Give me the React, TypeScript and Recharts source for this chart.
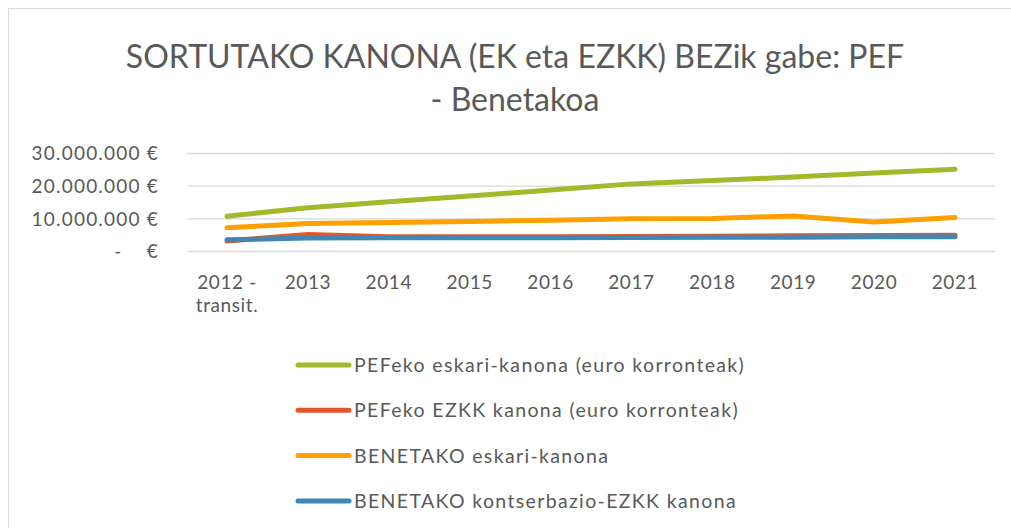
import React from 'react';
import { LineChart, Line, XAxis, YAxis, CartesianGrid } from 'recharts';

const categories = ['2012 - transit.', '2013', '2014', '2015', '2016', '2017', '2018', '2019', '2020', '2021'];
const pefEskari = [10.8e6, 13.4e6, 15.2e6, 17.0e6, 18.8e6, 20.7e6, 21.7e6, 22.8e6, 24.0e6, 25.2e6];
const pefEzkk = [3.2e6, 5.2e6, 4.5e6, 4.5e6, 4.5e6, 4.6e6, 4.7e6, 4.8e6, 4.9e6, 5.0e6];
const benEskari = [7.3e6, 8.6e6, 8.9e6, 9.2e6, 9.6e6, 10.0e6, 10.1e6, 10.9e6, 9.0e6, 10.4e6];
const benEzkk = [3.6e6, 4.1e6, 4.2e6, 4.2e6, 4.2e6, 4.3e6, 4.4e6, 4.4e6, 4.5e6, 4.5e6];
const yTicks = [0, 10000000, 20000000, 30000000];
const titleLines = ['SORTUTAKO KANONA (EK eta EZKK) BEZik gabe: PEF', '- Benetakoa'];

const seriesNames = [
  'PEFeko eskari-kanona (euro korronteak)',
  'PEFeko EZKK kanona (euro korronteak)',
  'BENETAKO eskari-kanona',
  'BENETAKO kontserbazio-EZKK kanona',
];
const seriesKeys = ['pefEskari', 'pefEzkk', 'benEskari', 'benEzkk'];
const seriesColors = ['#A5B72A', '#E5572B', '#FFA000', '#3F87B4'];

const data = categories.map((c, i) => ({
  name: c,
  pefEskari: pefEskari[i],
  pefEzkk: pefEzkk[i],
  benEskari: benEskari[i],
  benEzkk: benEzkk[i],
}));

const FONT = 'Lato, "Open Sans", sans-serif';
const TEXT = '#595959';

const fmtY = (v: number) => {
  if (v === 0) return '-\u00A0\u00A0\u00A0\u00A0€';
  return v.toLocaleString('de-DE') + ' €';
};

const XTick = (props: any) => {
  const { x, y, payload } = props;
  const label: string = payload.value;
  let lines = [label];
  if (label.length > 6) {
    const idx = label.lastIndexOf(' ');
    lines = [label.slice(0, idx), label.slice(idx + 1)];
  }
  return (
    <text x={x} y={y} textAnchor="middle" fill={TEXT} fontSize={19} fontFamily={FONT} letterSpacing={0.6}>
      {lines.map((l, i) => (
        <tspan key={i} x={x} dy={i === 0 ? 29 : 23}>
          {l}
        </tspan>
      ))}
    </text>
  );
};

export default function App() {
  return (
    <div style={{ position: 'absolute', left: 0, top: 0, width: 1011, height: 528, overflow: 'hidden', background: '#fff' }}>
      <div
        style={{
          position: 'absolute',
          left: 8,
          top: 8,
          width: 1200,
          height: 800,
          border: '1px solid #D9D9D9',
          boxSizing: 'border-box',
        }}
      />
      <svg width={1011} height={528} style={{ position: 'absolute', left: 0, top: 0 }}>
        {titleLines.map((t, i) => (
          <text
            key={t}
            x={515}
            y={68 + i * 43}
            textAnchor="middle"
            fill={TEXT}
            fontSize={32}
            fontFamily={FONT}
          >
            {t}
          </text>
        ))}
        {seriesNames.map((n, i) => (
          <g key={n} transform={`translate(0, ${365 + i * 45.3})`}>
            <line x1={298} y1={0} x2={349} y2={0} stroke={seriesColors[i]} strokeWidth={5} strokeLinecap="round" />
            <text x={354} y={7} fill={TEXT} fontSize={19.5} fontFamily={FONT} letterSpacing={1.35}>
              {n}
            </text>
          </g>
        ))}
      </svg>
      <div style={{ position: 'absolute', left: 0, top: 0 }}>
        <LineChart
          width={1011}
          height={528}
          data={data}
          margin={{ top: 153.5, right: 16, left: 0, bottom: 216.5 }}
        >
          <CartesianGrid vertical={false} stroke="#D9D9D9" strokeWidth={1.3} />
          <XAxis
            dataKey="name"
            axisLine={false}
            tickLine={false}
            height={60}
            interval={0}
            padding={{ left: 40, right: 40 }}
            tick={<XTick />}
          />
          <YAxis
            width={187}
            domain={[0, 30000000]}
            ticks={yTicks}
            axisLine={false}
            tickLine={false}
            tickSize={0}
            tickMargin={28}
            tickFormatter={fmtY}
            tick={{ fill: TEXT, fontSize: 19, fontFamily: FONT, letterSpacing: 1.2 }}
          />
          {seriesKeys.map((k, i) => (
            <Line
              key={k}
              type="linear"
              dataKey={k}
              name={seriesNames[i]}
              stroke={seriesColors[i]}
              strokeWidth={5}
              strokeLinecap="round"
              strokeLinejoin="round"
              dot={false}
              activeDot={false}
              isAnimationActive={false}
            />
          ))}
        </LineChart>
      </div>
    </div>
  );
}
